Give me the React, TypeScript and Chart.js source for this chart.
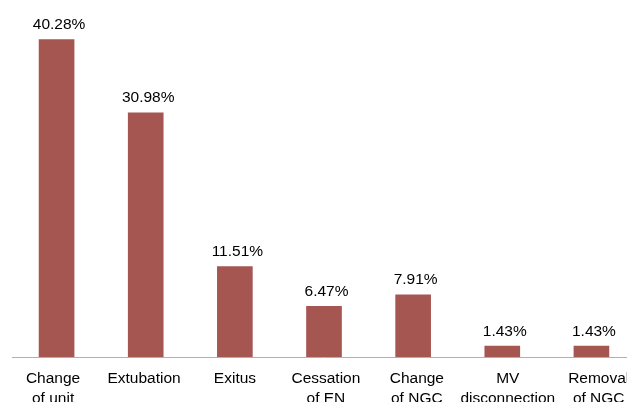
import React, { useEffect, useRef } from "react";
import { Chart, registerables } from "chart.js";

Chart.register(...registerables);

const categories: string[][] = [
  ["Change", "of unit"],
  ["Extubation"],
  ["Exitus"],
  ["Cessation", "of EN"],
  ["Change", "of NGC"],
  ["MV", "disconnection"],
  ["Removal", "of NGC"],
];
const percentages: number[] = [40.28, 30.98, 11.51, 6.47, 7.91, 1.43, 1.43];

const FONT = "'Liberation Sans', Arial, Helvetica, sans-serif";

// Writes the percentage above every bar
const valueLabels = {
  id: "valueLabels",
  afterDatasetsDraw(chart: any) {
    const ctx = chart.ctx;
    const meta = chart.getDatasetMeta(0);
    ctx.save();
    ctx.font = `15.5px ${FONT}`;
    ctx.fillStyle = "#000";
    ctx.textAlign = "center";
    ctx.textBaseline = "middle";
    meta.data.forEach((bar: any, i: number) => {
      ctx.fillText(percentages[i].toFixed(2) + "%", bar.x + 2.5, bar.y - 14.5);
    });
    ctx.restore();
  },
};

// Category names under the axis; their spacing is a little wider than the bars'
const categoryLabels = {
  id: "categoryLabels",
  afterDraw(chart: any) {
    const ctx = chart.ctx;
    const xScale = chart.scales.x;
    const top = chart.chartArea.bottom;
    const mid = (categories.length - 1) / 2;
    ctx.save();
    ctx.font = `15.5px ${FONT}`;
    ctx.fillStyle = "#000";
    ctx.textAlign = "center";
    ctx.textBaseline = "middle";
    categories.forEach((lines, i) => {
      const x = xScale.getPixelForValue(i) + 1.9 + (i - mid) * 1.8;
      lines.forEach((line, j) => {
        ctx.fillText(line, x, top + 21.5 + j * 20.5);
      });
    });
    ctx.restore();
  },
};

export default function App() {
  const ref = useRef<HTMLCanvasElement>(null);

  useEffect(() => {
    if (!ref.current) return;
    const chart = new Chart(ref.current, {
      type: "bar",
      data: {
        labels: categories.map((c) => c.join(" ")),
        datasets: [
          {
            data: percentages,
            backgroundColor: "#a65651",
            categoryPercentage: 1,
            barPercentage: 0.4,
          },
        ],
      },
      options: {
        animation: false,
        responsive: false,
        layout: { padding: { left: 12, right: 4, top: 2, bottom: 0 } },
        plugins: {
          legend: { display: false },
          tooltip: { enabled: false },
        },
        scales: {
          x: {
            grid: { display: false },
            border: { display: true, color: "#b0b0b0", width: 1 },
            ticks: { display: false },
            afterFit(scale: any) {
              scale.height = 45;
            },
          },
          y: {
            display: false,
            min: 0,
            max: 45,
          },
        },
      },
      plugins: [valueLabels, categoryLabels],
    });
    return () => chart.destroy();
  }, []);

  return (
    <div
      style={{
        position: "fixed",
        left: 0,
        top: 0,
        width: 627,
        height: 402,
        overflow: "hidden",
        background: "#fff",
      }}
    >
      <canvas ref={ref} width={640} height={402} style={{ display: "block" }} />
    </div>
  );
}
